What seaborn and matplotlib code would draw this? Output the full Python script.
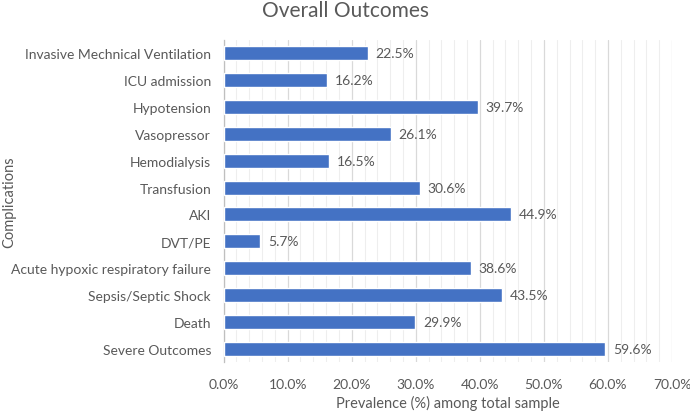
import matplotlib
matplotlib.use("Agg")
import matplotlib.pyplot as plt
import seaborn as sns
import pandas as pd
from matplotlib.ticker import MultipleLocator, FuncFormatter

categories = ["Invasive Mechnical Ventilation", "ICU admission", "Hypotension",
              "Vasopressor", "Hemodialysis", "Transfusion", "AKI", "DVT/PE",
              "Acute hypoxic respiratory failure", "Sepsis/Septic Shock", "Death",
              "Severe Outcomes"]
values = [22.5, 16.2, 39.7, 26.1, 16.5, 30.6, 44.9, 5.7, 38.6, 43.5, 29.9, 59.6]

df = pd.DataFrame({"cat": categories, "val": values})

sns.set_theme(style="white")
plt.rcParams['font.family'] = ['Lato', 'DejaVu Sans']
gray = "#595959"

fig = plt.figure(figsize=(6.9, 4.14), dpi=100)
ax = fig.add_axes([0.324, 0.122, 0.650, 0.780])

sns.barplot(data=df, x="val", y="cat", orient="h", color="#4472C4",
            saturation=1, width=0.52, ax=ax, zorder=3)

ax.set_xlim(0, 70)
ax.xaxis.set_major_locator(MultipleLocator(10))
ax.xaxis.set_minor_locator(MultipleLocator(2))
ax.xaxis.set_major_formatter(FuncFormatter(lambda v, p: f"{v:.1f}%"))
ax.grid(axis="x", which="major", color="#D9D9D9", linewidth=0.9, zorder=0)
ax.grid(axis="x", which="minor", color="#EEEEEE", linewidth=0.8, zorder=0)
ax.set_axisbelow(True)

for s in ["top", "right", "bottom"]:
    ax.spines[s].set_visible(False)
ax.spines["left"].set_color("#BFBFBF")
ax.spines["left"].set_linewidth(0.9)

ax.tick_params(axis="x", which="both", colors="#D9D9D9", labelcolor=gray,
               labelsize=10, length=0, pad=11)
ax.tick_params(axis="y", length=0, labelcolor=gray, labelsize=10, pad=9)

for i, v in enumerate(values):
    ax.text(v + 1.2, i, f"{v:.1f}%", va="center", ha="left", color=gray, fontsize=10)

ax.set_xlabel("Prevalence (%) among total sample", color=gray, fontsize=10.5, labelpad=4)
ax.set_ylabel("Complications", color=gray, fontsize=10.5)
ax.yaxis.set_label_coords(-0.462, 0.5)
fig.suptitle("Overall Outcomes", x=0.5, y=0.997, color=gray, fontsize=15)

fig.savefig("out.png", dpi=100, facecolor="white")
